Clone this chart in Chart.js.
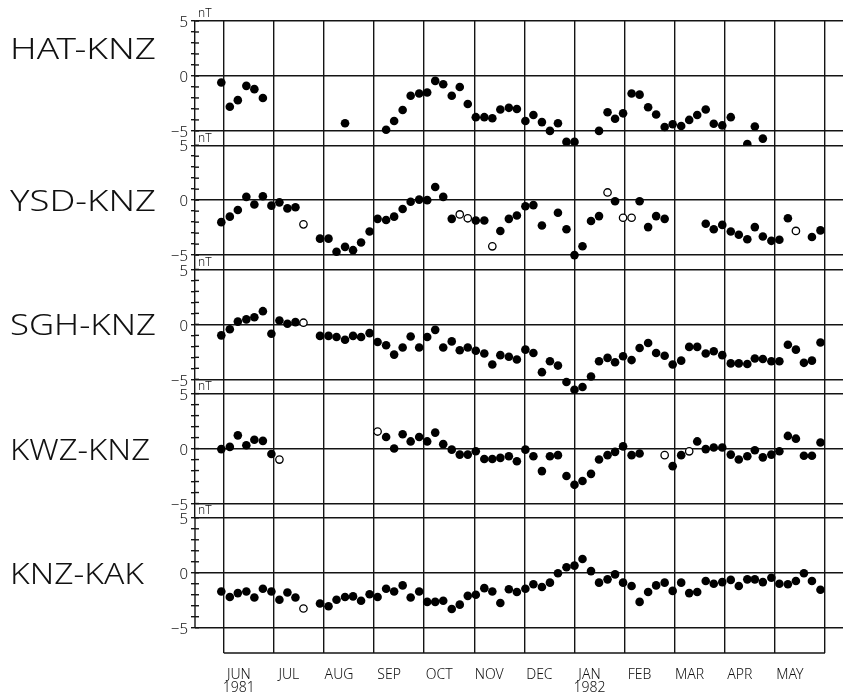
<!DOCTYPE html>
<html>
<head>
<meta charset="utf-8">
<script src="https://cdn.jsdelivr.net/npm/chart.js@4.4.1/dist/chart.umd.min.js"></script>
<style>
html,body{margin:0;padding:0;background:#fff;}
#wrap{position:relative;width:848px;height:697px;}
</style>
</head>
<body>
<div id="wrap"><canvas id="c" width="848" height="697"></canvas></div>
<script>
const _ = null;

// x positions of the 5-day samples, in months since 1 June 1981
const samplePositions = [
  -0.05,0.12,0.28,0.45,0.61,0.78,0.95,1.11,1.27,1.43,
  1.59,1.76,1.92,2.09,2.25,2.42,2.58,2.74,2.91,3.07,
  3.24,3.40,3.57,3.73,3.90,4.06,4.22,4.38,4.55,4.71,
  4.87,5.03,5.20,5.36,5.52,5.69,5.85,6.02,6.18,6.35,
  6.51,6.67,6.84,7.00,7.16,7.33,7.49,7.66,7.81,7.97,
  8.14,8.30,8.47,8.63,8.80,8.96,9.13,9.29,9.45,9.62,
  9.78,9.95,10.12,10.28,10.45,10.60,10.76,10.93,11.09,11.26,
  11.42,11.58,11.74,11.91
];

// month boundaries (x axis) and their labels
const monthTicks = [0,1,2,3,4,5,6,7,8,9,10,11,12];
const monthLabels = [['JUN','1981'],'JUL','AUG','SEP','OCT','NOV','DEC',['JAN','1982'],'FEB','MAR','APR','MAY',''];

// panels
const panelNames = ['HAT-KNZ','YSD-KNZ','SGH-KNZ','KWZ-KNZ','KNZ-KAK'];
const panelNameLevels = [2.5, 0, 0, 0, 0];   // value (nT) at which each panel name is centred
const yTickValues = [-5,-4,-3,-2,-1,0,1,2,3,4,5];
const yLabelValues = [-5,0,5];

// values in nT (filled symbols), one per sample position
const hatKnz = [
  -0.6,-2.8,-2.2,-0.9,-1.2,-2.0,_,_,_,_,
  _,_,_,_,_,-4.3,_,_,_,_,
  -4.9,-4.1,-3.1,-1.8,-1.6,-1.5,-0.45,-0.75,-1.8,-1.0,
  -2.55,-3.75,-3.75,-3.85,-3.05,-2.9,-3.0,-4.1,-3.55,-4.2,
  -5.0,-4.3,-6.0,-6.0,_,_,-5.0,-3.3,-3.9,-3.4,
  -1.6,-1.7,-2.85,-3.5,-4.65,-4.4,-4.55,-4.0,-3.55,-3.05,
  -4.35,-4.5,-3.75,_,-6.2,-4.6,-5.7,_,_,_,
  _,_,_,_
];
const ysdKnz = [
  -2.0,-1.5,-0.9,0.3,-0.4,0.35,-0.5,-0.2,-0.75,-0.65,
  _,_,-3.5,-3.5,-4.7,-4.25,-4.55,-3.85,-2.85,-1.7,
  -1.8,-1.5,-0.8,-0.15,0.05,0.0,1.2,0.3,-1.7,_,
  _,-1.85,-1.85,_,-2.8,-1.7,-1.4,-0.55,-0.45,-2.3,
  _,-1.15,-2.65,-5.0,-4.2,-1.9,-1.45,_,-0.1,_,
  _,-0.1,-2.45,-1.45,-1.7,_,_,_,_,-2.15,
  -2.65,-2.25,-2.85,-3.15,-3.55,-2.45,-3.3,-3.7,-3.6,-1.65,
  _,_,-3.35,-2.75
];
const sghKnz = [
  -1.0,-0.45,0.25,0.45,0.65,1.2,-0.85,0.35,0.05,0.2,
  _,_,-1.05,-1.05,-1.15,-1.4,-1.05,-1.15,-0.8,-1.6,
  -1.9,-2.75,-2.1,-1.1,-2.1,-1.15,-0.5,-2.1,-1.55,-2.35,
  -2.1,-2.4,-2.65,-3.65,-2.8,-2.95,-3.2,-2.3,-2.6,-4.35,
  -3.35,-3.75,-5.25,-5.95,-5.7,-4.75,-3.35,-3.05,-3.45,-2.9,
  -3.25,-2.15,-1.7,-2.6,-2.85,-3.65,-3.3,-2.05,-2.05,-2.65,
  -2.45,-2.8,-3.55,-3.55,-3.6,-3.1,-3.15,-3.35,-3.35,-1.85,
  -2.3,-3.5,-3.3,-1.65
];
const kwzKnz = [
  -0.05,0.15,1.2,0.3,0.8,0.7,-0.5,_,_,_,
  _,_,_,_,_,_,_,_,_,_,
  1.05,0.0,1.3,0.65,1.05,0.65,1.45,0.4,-0.1,-0.55,
  -0.55,-0.25,-0.95,-0.95,-0.85,-0.7,-1.15,-0.1,-0.7,-2.05,
  -0.7,-0.6,-2.5,-3.3,-2.95,-2.3,-1.0,-0.6,-0.3,0.2,
  -0.6,-0.45,_,_,_,-1.6,-0.6,_,0.65,-0.05,
  0.1,0.1,-0.55,-1.0,-0.7,-0.15,-0.8,-0.55,-0.25,1.15,
  0.9,-0.65,-0.65,0.55
];
const knzKak = [
  -1.7,-2.2,-1.85,-1.7,-2.25,-1.45,-1.7,-2.45,-1.8,-2.25,
  _,_,-2.8,-3.05,-2.45,-2.2,-2.15,-2.55,-1.95,-2.2,
  -1.45,-1.7,-1.15,-2.25,-1.7,-2.65,-2.65,-2.55,-3.3,-2.9,
  -2.1,-2.0,-1.4,-1.7,-2.75,-1.5,-1.75,-1.45,-1.05,-1.3,
  -0.9,-0.05,0.5,0.65,1.25,0.15,-0.9,-0.6,-0.15,-0.9,
  -1.2,-2.65,-1.75,-1.15,-0.9,-1.65,-0.9,-1.85,-1.75,-0.75,
  -1.0,-0.85,-0.65,-1.2,-0.6,-0.6,-0.85,-0.45,-1.0,-1.05,
  -0.75,-0.05,-0.75,-1.55
];

// open symbols: [sample index, value in nT]
const hatKnzOpen = [];
const ysdKnzOpen = [[10,-2.2],[29,-1.3],[30,-1.65],[33,-4.2],[47,0.7],[49,-1.6],[50,-1.6],[70,-2.8]];
const sghKnzOpen = [[10,0.15]];
const kwzKnzOpen = [[7,-1.0],[19,1.55],[54,-0.6],[57,-0.25]];
const knzKakOpen = [[10,-3.25]];

const filledSeries = [hatKnz, ysdKnz, sghKnz, kwzKnz, knzKak];
const openSeries = [hatKnzOpen, ysdKnzOpen, sghKnzOpen, kwzKnzOpen, knzKakOpen];
const panelIds = ['y1','y2','y3','y4','y5'];

const LINE = '#141414';
const LW = 1.4;
const TEXT = '#111';
const FAMILY = '"Noto Sans", "DejaVu Sans", sans-serif';
const NAME_WIDTHS = [146, 146, 146, 140, 134];   // drawn width of each panel name (px)

const scales = {
  x: {
    type: 'linear', min: -0.575, max: 12.36,
    afterBuildTicks: s => { s.ticks = monthTicks.map(v => ({value: v})); },
    afterFit: s => { s.height = 44; },
    grid: { color: LINE, lineWidth: LW, drawTicks: false },
    border: { display: false },
    ticks: {
      autoSkip: false, maxRotation: 0, minRotation: 0, padding: 15, labelOffset: 15,
      color: TEXT, font: { family: FAMILY, size: 14, weight: '300', lineHeight: 0.95 },
      callback: v => monthLabels[monthTicks.indexOf(v)]
    }
  }
};
for (let k = 4; k >= 0; k--) {
  const last = k === 4;
  scales[panelIds[k]] = {
    type: 'linear', position: 'left', stack: 'panels',
    stackWeight: last ? 12.3 : 11.3,
    min: last ? -7.3 : -6.3, max: 5,
    afterBuildTicks: s => { s.ticks = yTickValues.map(v => ({value: v})); },
    afterFit: s => { s.width = 195; },
    grid: {
      color: c => (c.tick && yLabelValues.includes(c.tick.value)) ? LINE : 'rgba(0,0,0,0)',
      tickColor: LINE, tickLength: 4, lineWidth: LW
    },
    border: { display: !last, color: LINE, width: LW },
    ticks: {
      autoSkip: false, padding: 3, labelOffset: 2, color: TEXT,
      font: { family: FAMILY, size: 15, weight: '300' },
      callback: v => yLabelValues.includes(v) ? (v < 0 ? '\u2212' + Math.abs(v) : String(v)) : ''
    }
  };
}

const datasets = [];
panelIds.forEach((id, k) => {
  const filled = [];
  filledSeries[k].forEach((v, i) => { if (v !== null) filled.push({x: samplePositions[i], y: v}); });
  datasets.push({
    type: 'scatter', label: panelNames[k], yAxisID: id, xAxisID: 'x', data: filled,
    pointRadius: 4.3, pointHoverRadius: 4.3, pointBackgroundColor: '#000',
    pointBorderColor: '#000', pointBorderWidth: 0, showLine: false
  });
  const open = openSeries[k].map(([i, v]) => ({x: samplePositions[i], y: v}));
  datasets.push({
    type: 'scatter', label: panelNames[k] + ' (open)', yAxisID: id, xAxisID: 'x', data: open,
    pointRadius: 3.7, pointHoverRadius: 3.7, pointBackgroundColor: '#fff',
    pointBorderColor: '#000', pointBorderWidth: 1.3, showLine: false
  });
});

const extras = {
  id: 'extras',
  afterDraw(chart) {
    const ctx = chart.ctx;
    const xs = chart.scales.x;
    const ys = panelIds.map(id => chart.scales[id]);
    ctx.save();
    ctx.strokeStyle = LINE;
    ctx.lineWidth = LW;
    // inner half of the axis tick crosses
    ys.forEach(s => {
      s.ticks.forEach(t => {
        const py = s.getPixelForValue(t.value);
        ctx.beginPath(); ctx.moveTo(s.right, py); ctx.lineTo(s.right + 4, py); ctx.stroke();
      });
    });
    // axis line of the bottom panel, down to -5
    const yb = ys[4];
    ctx.beginPath(); ctx.moveTo(yb.right, yb.top); ctx.lineTo(yb.right, yb.getPixelForValue(-5)); ctx.stroke();
    // bottom frame line between the first and last month boundary
    const bottom = chart.chartArea.bottom;
    ctx.beginPath();
    ctx.moveTo(xs.getPixelForValue(monthTicks[0]), bottom);
    ctx.lineTo(xs.getPixelForValue(monthTicks[monthTicks.length - 1]), bottom);
    ctx.stroke();
    // unit labels
    ctx.fillStyle = TEXT;
    ctx.font = '300 12px ' + FAMILY;
    ctx.textAlign = 'left';
    ctx.textBaseline = 'bottom';
    ys.forEach(s => ctx.fillText('nT', s.right + 3, s.getPixelForValue(5) - 1));
    // panel names (wide plotter-like lettering: stretched horizontally)
    ctx.font = '300 30px ' + FAMILY;
    ctx.textBaseline = 'alphabetic';
    panelNames.forEach((n, k) => {
      const w = ctx.measureText(n).width;
      const y0 = ys[k].getPixelForValue(panelNameLevels[k]);
      ctx.save();
      ctx.translate(10, y0 + 11);
      ctx.scale(NAME_WIDTHS[k] / w, 1);
      ctx.fillText(n, 0, 0);
      ctx.restore();
    });
    ctx.restore();
  }
};

new Chart(document.getElementById('c'), {
  data: { datasets },
  options: {
    responsive: false, devicePixelRatio: 1, animation: false, events: [],
    layout: { padding: { top: 21, left: 0, right: 0, bottom: 0 } },
    plugins: { legend: { display: false }, tooltip: { enabled: false }, title: { display: false } },
    scales
  },
  plugins: [extras]
});
</script>
</body>
</html>
